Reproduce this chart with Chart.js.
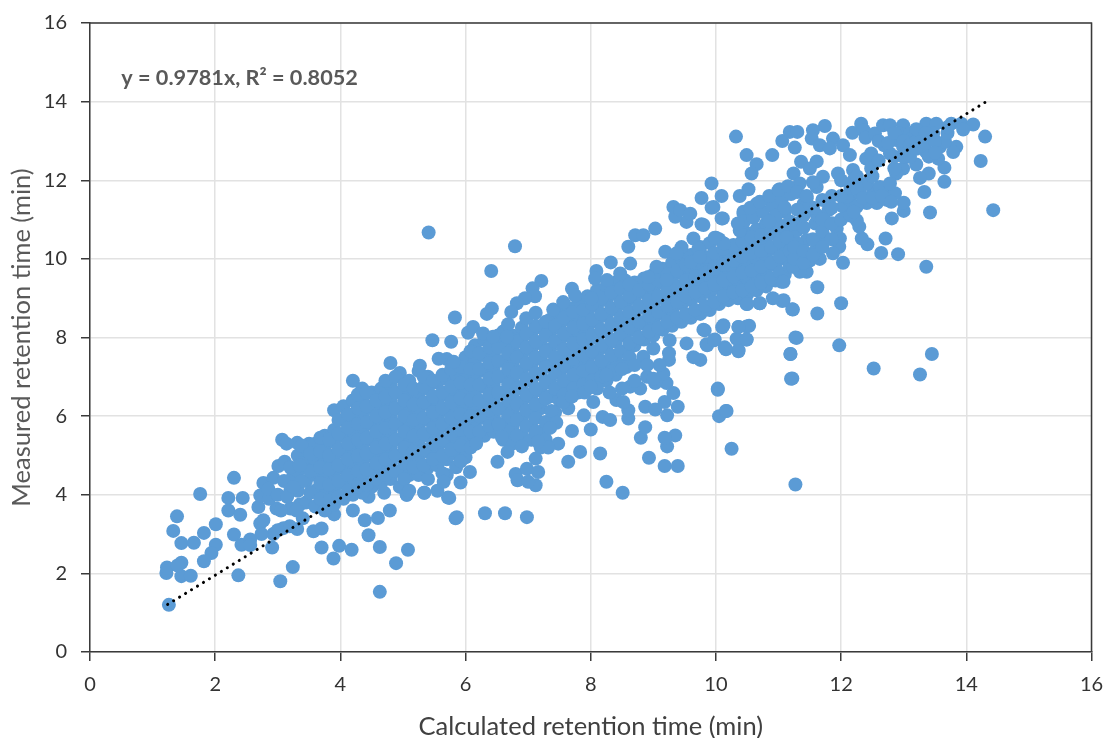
<!DOCTYPE html>
<html lang="en">
<head>
    <meta charset="UTF-8">
    <title>Retention time</title>
    <script src="https://cdn.jsdelivr.net/npm/chart.js"></script>
    <style>
        body { margin: 0; background: #fff; }
        #box { width: 1109px; height: 738px; }
    </style>
</head>
<body>
    <div id="box"><canvas id="rtChart" width="1109" height="738"></canvas></div>
    <script>
        // Values (minutes)
        const xTicks = [0, 2, 4, 6, 8, 10, 12, 14, 16];
        const yTicks = [0, 2, 4, 6, 8, 10, 12, 14, 16];
        const fitLabel = 'y = 0.9781x, R\u00B2 = 0.8052';
        const trendCalc = [1.24, 14.38];
        const trendMeasured = [1.21, 14.06];

        // scattered points on the low end
        const lowCalc = [
            1.26, 1.22, 1.23, 1.46, 1.40, 1.46, 1.61, 1.33, 1.39, 1.46,
            1.66, 1.82, 1.76, 2.01, 2.01, 1.94, 1.82, 2.37, 2.30, 2.21,
            2.44, 2.30, 2.21, 2.40, 2.42, 2.56, 2.56, 2.91, 3.04, 3.24,
            3.31, 3.19, 3.09, 2.77, 2.93, 3.01, 3.11, 3.07, 3.31, 3.50,
            3.14, 2.69, 2.72, 2.98, 2.86, 2.72, 2.93, 2.74, 2.77, 3.00,
            3.57, 3.70, 3.70, 3.89, 3.98, 4.18, 4.63, 5.08, 4.89, 4.63,
            4.45, 4.39, 4.60, 4.79, 5.06, 5.34, 5.72, 5.84, 4.70, 4.20,
            3.90, 4.45, 3.20, 3.35, 3.25, 3.10, 3.40, 2.85, 3.00, 3.20
        ];
        const lowMeasured = [
            1.20, 2.01, 2.15, 2.27, 2.20, 1.93, 1.94, 3.08, 3.45, 2.77,
            2.78, 3.03, 4.02, 3.25, 2.73, 2.52, 2.31, 1.95, 2.99, 3.92,
            3.92, 4.43, 3.60, 3.49, 2.73, 2.86, 2.72, 2.66, 1.80, 2.16,
            3.13, 3.20, 3.15, 4.30, 4.43, 4.73, 4.84, 5.40, 5.32, 5.30,
            5.30, 3.69, 3.98, 3.65, 3.90, 3.27, 3.00, 3.00, 3.35, 3.10,
            3.07, 3.14, 2.66, 2.38, 2.70, 2.60, 2.67, 2.60, 2.26, 1.53,
            2.97, 3.35, 3.41, 3.60, 4.00, 4.05, 3.93, 3.40, 4.05, 3.60,
            3.50, 3.95, 4.10, 3.75, 4.50, 4.35, 3.40, 4.15, 4.00, 3.65
        ];

        // edge of the cloud in the middle
        const midCalc = [
            5.41, 6.79, 6.41, 5.83, 7.21, 7.07, 7.11, 6.95, 6.82, 6.73,
            6.42, 6.34, 6.68, 6.97, 7.12, 7.40, 7.56, 7.70, 7.75, 8.01,
            8.09, 8.07, 8.32, 8.63, 8.47, 8.26, 8.60, 8.71, 8.84, 9.03,
            9.05, 8.92, 9.19, 9.45, 9.37, 9.64, 9.72, 9.77, 9.53, 9.32,
            9.35, 9.43, 9.59, 9.96, 10.11, 10.39, 10.44, 10.00, 10.13, 9.60,
            9.74, 9.21, 5.47, 5.77, 5.57, 5.27, 5.81, 6.04, 6.12, 6.28,
            6.44, 6.66, 5.06, 5.34, 5.74, 5.86, 6.31, 6.63, 6.98, 5.92,
            6.07, 5.65, 6.51, 6.67, 6.80, 6.83, 6.98, 7.12, 7.16, 7.12,
            7.00, 7.64, 7.83, 8.15, 8.25, 8.51, 8.93, 9.18, 9.39, 9.22,
            9.35, 9.18, 8.80, 8.87, 10.03, 10.25, 10.05, 10.17, 11.27, 11.20,
            11.19, 11.27, 7.70, 8.00, 7.89, 8.19, 8.31, 8.60, 8.60, 8.87,
            9.03, 9.22, 9.39, 9.18, 9.32, 9.21, 9.16, 9.03, 8.79, 8.63,
            8.57, 7.64, 7.56, 8.04, 8.41, 8.52, 7.37, 7.45, 7.35, 7.48,
            7.32, 7.16, 6.90, 6.58, 6.53, 6.17, 9.25, 9.25, 9.75, 9.64,
            9.85, 9.98, 10.14, 10.36, 10.49, 10.36, 10.49, 10.33, 10.49, 10.70,
            11.08, 11.23, 11.05, 10.12, 9.82, 9.00, 8.84, 9.26, 9.53, 5.10
        ];
        const midMeasured = [
            10.67, 10.32, 9.69, 8.51, 9.44, 9.25, 9.05, 9.00, 8.87, 8.65,
            8.74, 8.60, 8.34, 8.49, 8.63, 8.71, 8.90, 9.24, 9.07, 8.99,
            9.69, 9.50, 9.91, 9.88, 9.63, 9.46, 10.31, 10.60, 10.60, 10.77,
            9.80, 9.54, 10.18, 10.30, 10.14, 10.52, 10.26, 10.88, 10.94, 11.32,
            11.07, 11.24, 11.15, 11.32, 11.03, 10.73, 11.15, 10.54, 10.39, 9.92,
            10.05, 9.46, 7.93, 7.89, 7.46, 7.28, 7.38, 8.12, 8.27, 8.10,
            8.02, 8.02, 4.00, 4.05, 3.92, 3.43, 3.53, 3.53, 3.43, 4.31,
            4.58, 4.33, 4.84, 5.09, 4.53, 4.37, 4.66, 4.92, 4.58, 4.24,
            4.33, 4.84, 5.09, 5.05, 4.33, 4.05, 4.94, 4.73, 4.73, 5.23,
            5.51, 5.45, 5.45, 5.72, 6.70, 5.17, 6.00, 6.13, 4.26, 6.95,
            7.58, 8.00, 5.62, 5.66, 6.02, 5.98, 5.90, 5.94, 6.15, 6.24,
            6.17, 6.02, 6.24, 6.36, 6.59, 6.84, 7.08, 6.84, 6.70, 6.75,
            7.25, 6.20, 6.36, 6.36, 6.41, 6.36, 6.13, 5.83, 5.70, 5.30,
            5.20, 5.35, 5.23, 5.47, 5.80, 5.30, 7.43, 7.60, 7.43, 7.50,
            7.83, 7.95, 7.75, 7.68, 7.95, 8.27, 8.28, 7.97, 8.85, 8.87,
            8.95, 8.71, 9.42, 8.31, 8.18, 7.72, 7.51, 7.93, 7.85, 4.10
        ];

        // top right end of the cloud
        const highCalc = [
            10.32, 11.06, 11.18, 11.30, 11.26, 11.55, 11.74, 11.53, 11.66, 11.87,
            11.82, 12.03, 12.14, 12.18, 12.32, 12.36, 12.39, 12.54, 12.67, 12.78,
            12.99, 12.94, 13.10, 13.36, 13.52, 13.76, 13.92, 14.11, 13.95, 14.30,
            14.23, 14.43, 13.84, 13.79, 13.65, 13.65, 13.40, 13.26, 13.33, 13.42,
            13.00, 13.00, 12.81, 12.71, 12.64, 12.91, 13.36, 12.42, 12.33, 12.29,
            12.25, 12.03, 11.62, 11.62, 12.00, 11.22, 11.06, 10.91, 10.70, 10.50,
            11.29, 11.19, 11.22, 11.97, 12.52, 13.45, 13.26, 10.03, 10.16, 10.53,
            10.36, 10.49, 10.36, 10.16, 9.86, 9.97, 10.10, 9.80, 10.49, 10.65,
            10.57, 10.90, 11.36, 11.61, 11.50, 11.24, 11.34, 11.71, 11.95, 12.19,
            12.40, 12.48, 12.69, 12.99, 12.88, 9.93, 10.09, 10.38, 10.52, 11.02,
            9.77, 9.93, 10.09, 9.80, 10.44, 10.38, 9.98, 10.65, 10.86, 11.45,
            11.61, 13.47, 13.58, 13.36, 13.15, 13.26, 12.89, 12.99, 12.78, 13.66,
            13.55, 12.03, 12.14, 12.30, 12.51, 12.73, 12.86, 12.41, 12.57, 12.73,
            12.25, 12.09, 12.41, 12.62, 12.78, 11.87, 11.93, 11.98, 11.97, 11.87,
            11.66, 11.45, 11.34, 11.23, 11.59, 11.73, 11.59, 11.61, 11.80, 11.45,
            11.29, 11.29, 11.13, 11.50, 11.08, 12.20, 12.48, 13.05, 13.20, 13.40
        ];
        const highMeasured = [
            13.11, 13.00, 13.23, 13.23, 12.83, 13.27, 13.38, 13.06, 12.89, 13.06,
            12.81, 12.89, 12.64, 13.21, 13.44, 13.27, 13.08, 13.19, 13.40, 13.40,
            13.40, 13.19, 13.19, 13.44, 13.44, 13.44, 13.44, 13.42, 13.29, 13.11,
            12.49, 11.24, 12.85, 12.72, 12.32, 11.96, 12.17, 12.06, 11.70, 11.18,
            11.22, 11.43, 11.03, 10.52, 10.15, 10.12, 9.80, 10.37, 10.52, 10.82,
            10.98, 9.90, 9.28, 8.61, 8.87, 8.72, 8.93, 9.00, 8.87, 8.85,
            7.99, 7.58, 6.96, 7.80, 7.21, 7.58, 7.06, 6.67, 6.13, 8.30,
            8.27, 7.95, 7.65, 7.70, 7.80, 7.93, 8.26, 8.20, 12.64, 12.41,
            12.17, 12.64, 12.47, 12.48, 12.30, 12.17, 11.92, 12.09, 12.17, 12.26,
            12.55, 12.68, 12.89, 12.30, 12.17, 11.92, 11.60, 11.60, 11.77, 11.77,
            11.55, 11.30, 11.03, 10.86, 11.20, 10.72, 10.54, 11.40, 11.50, 11.54,
            11.83, 13.19, 12.85, 12.72, 13.10, 13.19, 13.02, 12.85, 12.68, 12.98,
            12.55, 11.33, 11.50, 11.67, 11.75, 11.75, 11.67, 11.42, 11.42, 11.50,
            11.33, 11.58, 11.92, 11.83, 11.92, 10.90, 10.77, 10.52, 10.31, 10.14,
            10.00, 9.67, 9.67, 9.80, 10.21, 10.56, 10.90, 11.12, 11.24, 10.48,
            10.40, 10.72, 10.55, 9.96, 9.42, 12.00, 12.30, 12.60, 12.40, 12.60
        ];

        // dense core of the cloud, one list of measured values per calculated column
        const coreCalc = [
            3.32, 3.45, 3.6, 3.75, 3.9, 4.05, 4.2, 4.35, 4.5, 4.65,
            4.8, 4.95, 5.1, 5.25, 5.4, 5.55, 5.7, 5.85, 6.0, 6.15,
            6.3, 6.45, 6.6, 6.75, 6.9, 7.05, 7.2, 7.35, 7.5, 7.65,
            7.8, 7.95, 8.1, 8.25, 8.4, 8.55, 8.7, 8.85, 9.0, 9.15,
            9.3, 9.45, 9.6, 9.75, 9.9, 10.05, 10.2, 10.35, 10.5, 10.65,
            10.8, 10.95, 11.1
        ];
        const coreMeasured = [
            [4.1, 4.6, 5.0],
            [3.8, 4.35, 4.85, 5.2],
            [3.7, 4.1, 4.5, 4.9, 5.3],
            [3.6, 4.0, 4.45, 4.8, 5.2, 5.5],
            [3.75, 4.15, 4.55, 4.95, 5.35, 5.65, 6.15],
            [3.9, 4.3, 4.7, 5.1, 5.5, 5.9, 6.25],
            [4.0, 4.4, 4.8, 5.2, 5.6, 6.0, 6.4, 6.9],
            [4.05, 4.45, 4.85, 5.25, 5.65, 6.05, 6.45, 6.7],
            [4.2, 4.6, 5.0, 5.4, 5.8, 6.2, 6.6],
            [4.3, 4.7, 5.1, 5.5, 5.9, 6.3, 6.7],
            [4.4, 4.8, 5.2, 5.6, 6.0, 6.4, 6.8, 7.35],
            [4.2, 4.6, 5.0, 5.4, 5.8, 6.2, 6.6, 7.1],
            [4.5, 4.9, 5.3, 5.7, 6.1, 6.5, 6.9],
            [4.5, 4.95, 5.35, 5.75, 6.15, 6.55, 7.15],
            [4.4, 4.7, 5.1, 5.5, 5.9, 6.3, 6.7, 7.0],
            [4.1, 4.75, 5.2, 5.6, 6.0, 6.4, 6.85],
            [4.5, 4.9, 5.35, 5.75, 6.15, 6.55, 6.95, 7.45],
            [4.7, 5.05, 5.45, 5.85, 6.25, 6.65, 7.05],
            [4.95, 5.4, 5.8, 6.2, 6.6, 7.0, 7.5],
            [5.4, 5.8, 6.2, 6.6, 7.0, 7.4, 7.8],
            [5.5, 5.95, 6.35, 6.75, 7.15, 7.55, 7.95],
            [5.6, 6.0, 6.4, 6.8, 7.2, 7.6, 7.9],
            [5.4, 5.8, 6.2, 6.6, 7.0, 7.4, 7.8, 8.15],
            [5.3, 5.7, 6.1, 6.5, 6.9, 7.3, 7.7, 8.05],
            [5.5, 5.95, 6.35, 6.75, 7.15, 7.55, 7.95, 8.25],
            [5.4, 5.75, 6.1, 6.5, 6.9, 7.3, 7.7, 8.1],
            [5.2, 5.6, 6.2, 6.65, 7.05, 7.45, 7.85, 8.25],
            [5.8, 6.5, 6.9, 7.3, 7.7, 8.1, 8.45],
            [6.4, 6.7, 7.1, 7.5, 7.9, 8.3, 8.6],
            [6.5, 6.85, 7.25, 7.65, 8.05, 8.45, 8.75],
            [6.6, 6.95, 7.35, 7.75, 8.15, 8.55, 8.85],
            [6.7, 7.05, 7.45, 7.85, 8.25, 8.65, 9.05],
            [6.8, 7.2, 7.6, 8.0, 8.4, 8.8, 9.2],
            [6.9, 7.35, 7.75, 8.15, 8.55, 8.95, 9.3],
            [7.05, 7.45, 7.9, 8.3, 8.7, 9.1, 9.4],
            [7.3, 7.65, 8.05, 8.45, 8.85, 9.25, 9.45],
            [7.8, 8.2, 8.6, 9.0, 9.4],
            [7.95, 8.35, 8.75, 9.15, 9.5],
            [8.05, 8.45, 8.85, 9.25, 9.6],
            [8.2, 8.6, 9.0, 9.4, 9.75],
            [8.3, 8.7, 9.1, 9.5, 9.9],
            [8.4, 8.85, 9.25, 9.65, 10.0],
            [8.5, 8.95, 9.35, 9.75, 10.1],
            [8.6, 9.05, 9.45, 9.85, 10.3],
            [8.7, 9.15, 9.55, 9.95, 10.4],
            [8.85, 9.25, 9.65, 10.05, 10.5],
            [8.95, 9.35, 9.75, 10.15, 10.3],
            [9.0, 9.45, 9.85, 10.25],
            [9.1, 9.5, 9.95, 10.35, 10.65],
            [9.2, 9.6, 10.0, 10.4, 10.75],
            [9.3, 9.7, 10.1, 10.5, 10.9],
            [9.45, 9.85, 10.25, 10.65, 11.05],
            [9.6, 10.0, 10.35, 10.75, 11.2]
        ];

        // second pass through the core, between the columns above
        const coreCalcB = [
            3.38, 3.52, 3.68, 3.82, 3.97, 4.12, 4.28, 4.42, 4.57, 4.72,
            4.88, 5.02, 5.17, 5.33, 5.48, 5.63, 5.77, 5.92, 6.08, 6.22,
            6.38, 6.52, 6.68, 6.82, 6.97, 7.12, 7.28, 7.43, 7.57, 7.72,
            7.88, 8.02, 8.17, 8.33, 8.48, 8.62, 8.77, 8.93, 9.08, 9.22,
            9.38, 9.52, 9.67, 9.83, 9.97, 10.12, 10.28, 10.42, 10.57, 10.72,
            10.88, 11.02, 11.18
        ];
        const coreMeasuredB = [
            [4.35, 4.8, 5.25],
            [4.05, 4.6, 5.05],
            [3.9, 4.3, 4.7, 5.1, 5.45],
            [3.85, 4.25, 4.65, 5.0, 5.4],
            [3.95, 4.35, 4.75, 5.15, 5.55, 5.9],
            [4.1, 4.5, 4.9, 5.3, 5.7, 6.05],
            [4.2, 4.6, 5.0, 5.4, 5.8, 6.2, 6.55],
            [4.25, 4.65, 5.05, 5.45, 5.85, 6.25, 6.6],
            [4.4, 4.8, 5.2, 5.6, 6.0, 6.4],
            [4.5, 4.9, 5.3, 5.7, 6.1, 6.5, 6.9],
            [4.6, 5.0, 5.4, 5.8, 6.2, 6.6, 7.0],
            [4.4, 4.8, 5.2, 5.6, 6.0, 6.4, 6.8],
            [4.7, 5.1, 5.5, 5.9, 6.3, 6.7],
            [4.75, 5.15, 5.55, 5.95, 6.35, 6.75, 7.0],
            [4.9, 5.3, 5.7, 6.1, 6.5, 6.9],
            [4.55, 5.0, 5.4, 5.8, 6.2, 6.6, 7.05],
            [5.15, 5.55, 5.95, 6.35, 6.75, 7.2],
            [4.85, 5.25, 5.65, 6.05, 6.45, 6.85, 7.25],
            [5.2, 5.6, 6.0, 6.4, 6.8, 7.2, 7.65],
            [5.6, 6.0, 6.4, 6.8, 7.2, 7.6],
            [5.75, 6.15, 6.55, 6.95, 7.35, 7.75],
            [5.8, 6.2, 6.6, 7.0, 7.4, 7.75, 8.05],
            [5.6, 6.0, 6.4, 6.8, 7.2, 7.6, 8.0],
            [5.5, 5.9, 6.3, 6.7, 7.1, 7.5, 7.9],
            [5.75, 6.15, 6.55, 6.95, 7.35, 7.75, 8.1],
            [5.6, 5.95, 6.3, 6.7, 7.1, 7.5, 7.9, 8.3],
            [5.4, 5.85, 6.45, 6.85, 7.25, 7.65, 8.05, 8.4],
            [6.1, 6.7, 7.1, 7.5, 7.9, 8.3],
            [6.55, 6.9, 7.3, 7.7, 8.1, 8.5],
            [6.7, 7.05, 7.45, 7.85, 8.25, 8.65],
            [6.8, 7.15, 7.55, 7.95, 8.35, 8.7],
            [6.9, 7.25, 7.65, 8.05, 8.45, 8.85],
            [7.0, 7.4, 7.8, 8.2, 8.6, 9.0],
            [7.15, 7.55, 7.95, 8.35, 8.75, 9.15],
            [7.25, 7.65, 8.1, 8.5, 8.9, 9.25],
            [7.5, 7.85, 8.25, 8.65, 9.05, 9.35],
            [8.0, 8.4, 8.8, 9.2],
            [8.15, 8.55, 8.95, 9.35],
            [8.25, 8.65, 9.05, 9.45],
            [8.4, 8.8, 9.2, 9.6],
            [8.5, 8.9, 9.3, 9.7],
            [8.6, 9.05, 9.45, 9.85],
            [8.7, 9.15, 9.55, 9.95],
            [8.8, 9.25, 9.65, 10.05],
            [8.9, 9.35, 9.75, 10.15],
            [9.05, 9.45, 9.85, 10.25],
            [9.15, 9.55, 9.95, 10.35],
            [9.2, 9.65, 10.05, 10.45],
            [9.3, 9.7, 10.15, 10.55],
            [9.4, 9.8, 10.2, 10.6],
            [9.5, 9.9, 10.3, 10.7],
            [9.65, 10.05, 10.45, 10.85],
            [9.8, 10.2, 10.55, 10.95]
        ];

        // filler for the crowded part past x = 11
        const upperCalc = [
            11.25, 11.25, 11.25, 11.4, 11.4, 11.4, 11.4, 11.55, 11.55, 11.55,
            11.7, 11.7, 11.7, 11.7, 11.85, 11.85, 11.85, 11.85, 12.0, 12.0,
            12.0, 12.15, 12.15, 12.25, 12.25, 12.5, 12.6, 12.6, 12.75, 12.85,
            12.85, 12.85, 13.0, 13.0, 13.1, 13.1, 13.2, 13.2, 13.2, 13.35,
            13.35, 13.5, 13.5, 13.7, 13.7, 12.35, 12.5, 12.65, 12.8, 12.2
        ];
        const upperMeasured = [
            10.0, 10.3, 10.9, 9.9, 10.2, 10.8, 11.1, 10.1, 10.5, 11.3,
            10.3, 10.7, 11.0, 11.5, 10.5, 10.9, 11.3, 11.6, 11.0, 11.6,
            12.0, 11.1, 11.8, 11.8, 12.1, 12.1, 13.0, 12.5, 12.95, 12.3,
            12.6, 13.2, 12.6, 13.0, 12.9, 12.6, 12.8, 13.0, 13.3, 12.95,
            13.2, 13.0, 12.7, 13.2, 13.35, 11.55, 11.55, 11.6, 11.45, 11.2
        ];

        // looser patches on both sides of the band
        const patchCalc = [
            10.45, 10.6, 10.75, 10.9, 11.05, 11.2, 10.55, 10.7, 10.85, 11.0,
            11.15, 11.3, 11.4, 10.35, 10.95, 11.1, 11.3, 11.45, 11.55, 10.85,
            7.7, 7.9, 8.1, 8.3, 8.5, 8.7, 8.9, 9.0, 9.1, 8.9,
            8.7, 8.5, 8.25, 8.0, 3.05, 3.15, 3.3, 3.25, 3.2, 3.35
        ];
        const patchMeasured = [
            10.95, 11.05, 11.2, 11.35, 11.5, 11.65, 11.3, 11.45, 11.6, 11.75,
            11.85, 11.7, 11.4, 10.9, 11.1, 11.3, 11.25, 11.6, 11.95, 10.95,
            6.5, 6.6, 6.7, 6.6, 6.7, 6.9, 7.0, 6.95, 7.3, 7.3,
            7.3, 7.2, 7.05, 6.75, 3.6, 3.95, 3.6, 4.2, 4.7, 4.75
        ];

        function toPoints(xs, ys) {
            return xs.map((x, i) => ({ x: x, y: ys[i] }));
        }

        function columnPoints(xs, yLists) {
            return xs.flatMap((x, i) => yLists[i].map(y => ({ x: x, y: y })));
        }

        const scatterPoints = [
            ...toPoints(lowCalc, lowMeasured),
            ...columnPoints(coreCalc, coreMeasured),
            ...columnPoints(coreCalcB, coreMeasuredB),
            ...toPoints(midCalc, midMeasured),
            ...toPoints(highCalc, highMeasured),
            ...toPoints(upperCalc, upperMeasured),
            ...toPoints(patchCalc, patchMeasured)
        ];

        const axisDark = '#3a3a3a';
        const gridGrey = '#e2e2e2';
        const fontName = 'Lato, "Open Sans", sans-serif';

        // Frame on the top and right, plus the fit equation inside the plot
        const extras = {
            id: 'extras',
            afterDatasetsDraw(chart) {
                const { ctx, chartArea, scales } = chart;
                ctx.save();
                ctx.strokeStyle = axisDark;
                ctx.lineWidth = 1.5;
                ctx.beginPath();
                ctx.moveTo(chartArea.left, chartArea.top);
                ctx.lineTo(chartArea.right, chartArea.top);
                ctx.lineTo(chartArea.right, chartArea.bottom);
                ctx.stroke();
                ctx.fillStyle = '#595959';
                ctx.font = 'bold 21.7px ' + fontName;
                ctx.textBaseline = 'middle';
                ctx.fillText(fitLabel, scales.x.getPixelForValue(0.5), scales.y.getPixelForValue(14.6));
                ctx.restore();
            }
        };

        new Chart(document.getElementById('rtChart'), {
            type: 'scatter',
            data: {
                datasets: [
                    {
                        label: 'Trend',
                        type: 'line',
                        data: toPoints(trendCalc, trendMeasured),
                        borderColor: '#000',
                        borderWidth: 3,
                        borderDash: [0.1, 6.9],
                        borderCapStyle: 'round',
                        pointRadius: 0,
                        fill: false,
                        order: 0
                    },
                    {
                        label: 'Peptides',
                        data: scatterPoints,
                        backgroundColor: '#5B9BD5',
                        borderWidth: 0,
                        pointRadius: 7,
                        order: 1
                    }
                ]
            },
            options: {
                responsive: false,
                animation: false,
                layout: { padding: { top: 23, right: 17.5, left: 0, bottom: 0 } },
                plugins: { legend: { display: false }, tooltip: { enabled: false } },
                scales: {
                    x: {
                        type: 'linear',
                        min: 0,
                        max: 16,
                        afterFit(scale) {
                            scale.height = 86;
                            scale.paddingLeft = 0;
                            scale.paddingRight = 0;
                        },
                        afterBuildTicks(scale) { scale.ticks = xTicks.map(v => ({ value: v })); },
                        grid: { color: gridGrey, lineWidth: 1.5, tickColor: axisDark, tickLength: 9 },
                        border: { color: axisDark, width: 1.5 },
                        ticks: { color: '#333', font: { family: fontName, size: 20 }, padding: 12, maxRotation: 0 },
                        title: {
                            display: true,
                            text: 'Calculated retention time (min)',
                            color: '#404040',
                            font: { family: fontName, size: 25.5, lineHeight: 0.9 },
                            padding: { top: 0, bottom: 0 }
                        }
                    },
                    y: {
                        type: 'linear',
                        min: 0,
                        max: 16,
                        afterFit(scale) {
                            scale.width = 90;
                            scale.paddingTop = 0;
                            scale.paddingBottom = 0;
                        },
                        afterBuildTicks(scale) { scale.ticks = yTicks.map(v => ({ value: v })); },
                        grid: { color: gridGrey, lineWidth: 1.5, tickColor: axisDark, tickLength: 9 },
                        border: { color: axisDark, width: 1.5 },
                        ticks: { color: '#333', font: { family: fontName, size: 20 }, padding: 14 },
                        title: {
                            display: true,
                            text: 'Measured retention time (min)',
                            color: '#595959',
                            font: { family: fontName, size: 25.5, lineHeight: 1 },
                            padding: { top: 9, bottom: 0 }
                        }
                    }
                }
            },
            plugins: [extras]
        });
    </script>
</body>
</html>
